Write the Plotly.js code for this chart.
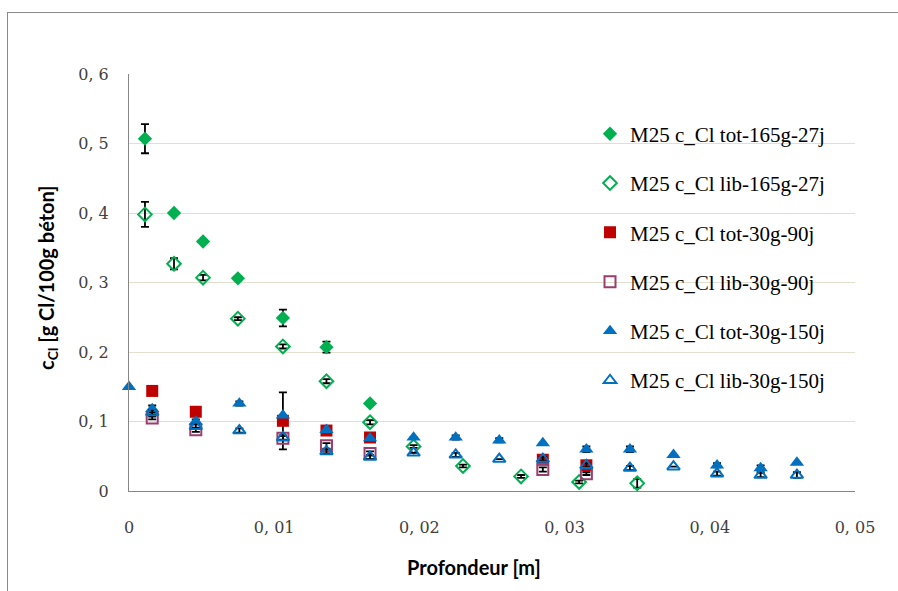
<!DOCTYPE html>
<html>
<head>
<meta charset="utf-8">
<script src="https://cdn.plot.ly/plotly-3.0.1.min.js"></script>
<style>
  html, body { margin: 0; padding: 0; background: #ffffff; overflow: hidden; width: 898px; height: 591px; }
  #chart { width: 898px; height: 591px; position: absolute; left: 0; top: 0; }
  .fl { position: absolute; background: #8a8a8a; pointer-events: none; }
</style>
</head>
<body>
<div id="chart"></div>
<div class="fl" style="left:7px; top:12px; width:891px; height:1px;"></div>
<div class="fl" style="left:7px; top:12px; width:1px; height:579px;"></div>
<script>
// ---- data ----
const seriesNames = [
  "M25 c_Cl tot-165g-27j",
  "M25 c_Cl lib-165g-27j",
  "M25 c_Cl tot-30g-90j",
  "M25 c_Cl lib-30g-90j",
  "M25 c_Cl tot-30g-150j",
  "M25 c_Cl lib-30g-150j"
];

const xTot165 = [0.0011, 0.0031, 0.0051, 0.0075, 0.0106, 0.0136, 0.0166];
const yTot165 = [0.507, 0.400, 0.359, 0.306, 0.249, 0.207, 0.126];
const eTot165 = [0.021, 0, 0, 0.003, 0.012, 0.008, 0];

const xLib165 = [0.0011, 0.0031, 0.0051, 0.0075, 0.0106, 0.0136, 0.0166, 0.0196, 0.0230, 0.0270, 0.0310, 0.0350];
const yLib165 = [0.398, 0.327, 0.307, 0.248, 0.208, 0.158, 0.099, 0.064, 0.036, 0.021, 0.013, 0.011];
const eLib165 = [0.018, 0.008, 0.004, 0.002, 0.003, 0.003, 0.003, 0.002, 0.002, 0.002, 0.002, 0.006];

const xTot90 = [0.0016, 0.0046, 0.0106, 0.0136, 0.0166, 0.0285, 0.0315];
const yTot90 = [0.144, 0.114, 0.101, 0.087, 0.077, 0.045, 0.037];
const eTot90 = [0, 0, 0.041, 0, 0, 0, 0];

const xLib90 = [0.0016, 0.0046, 0.0106, 0.0136, 0.0166, 0.0285, 0.0315];
const yLib90 = [0.105, 0.088, 0.076, 0.065, 0.054, 0.031, 0.025];
const eLib90 = [0.002, 0.003, 0.003, 0.004, 0.003, 0.003, 0.002];

const xTot150 = [0, 0.0016, 0.0046, 0.0076, 0.0106, 0.0136, 0.0166, 0.0196, 0.0225, 0.0255, 0.0285, 0.0315, 0.0345, 0.0375, 0.0405, 0.0435, 0.0460];
const yTot150 = [0.150, 0.118, 0.100, 0.126, 0.109, 0.088, 0.076, 0.077, 0.077, 0.073, 0.069, 0.060, 0.060, 0.052, 0.037, 0.033, 0.041];
const eTot150 = [0, 0.005, 0.003, 0.003, 0, 0, 0, 0, 0.003, 0.003, 0, 0.004, 0.004, 0, 0.003, 0.004, 0];

const xLib150 = [0.0016, 0.0046, 0.0076, 0.0106, 0.0136, 0.0166, 0.0196, 0.0225, 0.0255, 0.0285, 0.0315, 0.0345, 0.0375, 0.0405, 0.0435, 0.0460];
const yLib150 = [0.113, 0.093, 0.087, 0.077, 0.057, 0.049, 0.055, 0.052, 0.046, 0.046, 0.037, 0.033, 0.035, 0.025, 0.023, 0.023];
const eLib150 = [0.003, 0.003, 0.003, 0.003, 0.003, 0.003, 0, 0.003, 0, 0.003, 0.003, 0.003, 0, 0.003, 0.003, 0.004];

const xTickVals = [0, 0.01, 0.02, 0.03, 0.04, 0.05];
const xTickText = ["0", "0, 01", "0, 02", "0, 03", "0, 04", "0, 05"];
const yTickVals = [0, 0.1, 0.2, 0.3, 0.4, 0.5, 0.6];
const yTickText = ["0", "0, 1", "0, 2", "0, 3", "0, 4", "0, 5", "0, 6"];

const xTitle = "Profondeur [m]";
const yTitle = "c<sub>Cl</sub> [g Cl/100g béton]";

// ---- styles ----
const GREEN = "#00b050", RED = "#c00000", PURPLE = "#9b3d6e", BLUE = "#0070c0";

function err(arr) {
  return { type: "data", array: arr, visible: true, color: "#000000", thickness: 1.8, width: 4 };
}
function tr(name, x, y, e, symbol, size, color, group) {
  return {
    type: "scatter", mode: "markers", name: name, x: x, y: y,
    error_y: err(e), cliponaxis: false, legendgroup: group,
    marker: { symbol: symbol, size: size, color: color,
              line: { color: color, width: symbol.indexOf("open") >= 0 ? 2 : 0 } }
  };
}

const data = [
  tr(seriesNames[0], xTot165, yTot165, eTot165, "diamond", 11, GREEN, "g1"),
  tr(seriesNames[1], xLib165, yLib165, eLib165, "diamond-open", 10.5, GREEN, "g2"),
  tr(seriesNames[2], xTot90, yTot90, eTot90, "square", 12, RED, "g3"),
  tr(seriesNames[3], xLib90, yLib90, eLib90, "square-open", 11, PURPLE, "g4"),
  tr(seriesNames[4], xTot150, yTot150, eTot150, "triangle-up", 12.5, BLUE, "g5"),
  tr(seriesNames[5], xLib150, yLib150, eLib150, "triangle-up-open", 11, BLUE, "g6")
];

const tickFont = { family: "DejaVu Serif", size: 16, color: "#404040" };

const layout = {
  width: 898, height: 591,
  margin: { l: 129, r: 43, t: 74, b: 100, pad: 0 },
  paper_bgcolor: "#ffffff", plot_bgcolor: "#ffffff",
  showlegend: true,
  legend: {
    x: 0.635, xanchor: "left", y: 0.905, yanchor: "top",
    bgcolor: "rgba(0,0,0,0)", borderwidth: 0,
    traceorder: "grouped", tracegroupgap: 19,
    font: { family: "Liberation Serif", size: 21, color: "#000000" }
  },
  xaxis: {
    range: [0, 0.05], tickvals: xTickVals, ticktext: xTickText,
    showgrid: false, zeroline: false, showline: true, linecolor: "#868686", linewidth: 1,
    ticks: "", tickfont: tickFont, ticklabelstandoff: 22, fixedrange: true
  },
  yaxis: {
    range: [0, 0.6], tickvals: yTickVals, ticktext: yTickText,
    showgrid: true, gridcolor: "#e3dfcf", gridwidth: 1,
    zeroline: false, showline: true, linecolor: "#868686", linewidth: 1,
    ticks: "", tickfont: tickFont, ticklabelstandoff: 16, fixedrange: true
  },
  annotations: [
    { text: "<b>" + xTitle + "</b>", xref: "paper", yref: "paper", x: 0.475, y: -0.182,
      xanchor: "center", yanchor: "middle", showarrow: false,
      font: { family: "Lato", size: 20, color: "#000000" } },
    { text: "<b>" + yTitle + "</b>", xref: "paper", yref: "paper", x: -0.1116, y: 0.511,
      xanchor: "center", yanchor: "middle", showarrow: false, textangle: -90,
      font: { family: "Lato", size: 20, color: "#000000" } }
  ]
};

Plotly.newPlot("chart", data, layout, { displayModeBar: false, staticPlot: true });
</script>
</body>
</html>
